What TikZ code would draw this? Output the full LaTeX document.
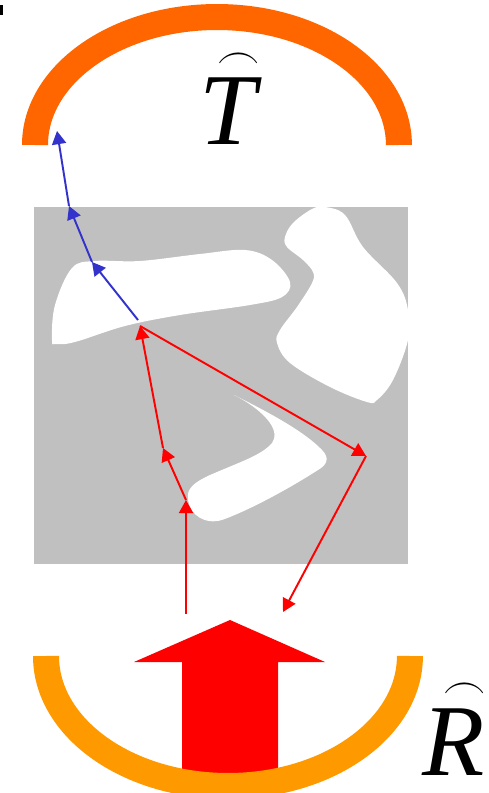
\documentclass[tikz,border=0pt]{standalone}
\usepackage{amsmath}
\usepackage{fontspec}
\setmainfont{Liberation Serif}
\usetikzlibrary{arrows.meta}
\definecolor{mirrortop}{RGB}{255,102,0}
\definecolor{mirrorbot}{RGB}{255,153,0}
\definecolor{rayred}{RGB}{255,0,0}
\definecolor{rayblue}{RGB}{51,51,204}
\definecolor{medium}{RGB}{192,192,192}
\tikzset{
  mirrorarc/.style={line width=0.52cm},
  ray/.style={-{Triangle[length=7.5pt,width=8pt]}, line width=1.1pt, color=rayred},
  blueray/.style={ray, color=rayblue},
  hole/.style={fill=white, draw=none},
  hatlabel/.style={font=\fontsize{58}{60}\selectfont, anchor=base, inner sep=0pt}
}
\begin{document}
\begin{tikzpicture}[x=0.02cm, y=-0.02cm]
  \useasboundingbox (0,0) rectangle (489,793);
  \clip (0,0) rectangle (489,793);
  \fill (0,5) rectangle (3,15);

  % Scattering medium
  \fill[medium] (34,207) rectangle (408,564);
  \fill[hole] plot[smooth cycle, tension=0.6] coordinates {(52,340) (55,305) (72,268) (95,261) (140,261) (200,254) (245,250) (272,260) (290,282) (282,297) (250,305) (180,315) (125,326) (75,342) (56,344)};
  \fill[hole] plot[smooth cycle, tension=0.6] coordinates {(325,207) (345,215) (363,247) (397,283) (408,310) (408,340) (393,380) (377,400) (367,402) (330,387) (290,363) (277,343) (280,330) (297,307) (312,283) (313,272) (303,260) (287,247) (285,237) (293,223) (312,209)};
  \fill[hole] (234,395) .. controls (270,413) and (305,432) .. (322,450)
    .. controls (330,458) and (327,465) .. (318,470)
    .. controls (290,488) and (250,510) .. (222,520)
    .. controls (205,525) and (190,515) .. (188,500)
    .. controls (186,488) and (195,482) .. (210,475)
    .. controls (240,462) and (262,455) .. (272,443)
    .. controls (280,432) and (268,418) .. (255,408)
    .. controls (247,402) and (240,398) .. (234,395) -- cycle;

  % Ray path
  \coordinate (src) at (186,614);
  \coordinate (p1) at (186,500);
  \coordinate (p2) at (163,448);
  \coordinate (p3) at (140,326);
  \coordinate (p4) at (366,456);
  \coordinate (p5) at (283,612);
  \coordinate (q0) at (138,320);
  \coordinate (q1) at (92,262);
  \coordinate (q2) at (69,206);
  \coordinate (q3) at (57,131);
  \draw[ray] (src) -- (p1);
  \draw[ray] (p1) -- (p2);
  \draw[ray] (p2) -- (p3);
  \draw[ray] (p3) -- (p4);
  \draw[ray] (p4) -- (p5);
  \draw[blueray] (q0) -- (q1);
  \draw[blueray] (q1) -- (q2);
  \draw[blueray] (q2) -- (q3);

  % Transmission
  \draw[mirrorarc, mirrortop] (35,145) arc[start angle=180, end angle=0, x radius=3.64cm, y radius=2.56cm];
  \node[hatlabel] (tlab) at (228,145) {$\overset{\scriptscriptstyle\kern0.2em\frown}{\textit{T}}$};

  % Reflection
  \fill[rayred] (230,620) -- (325,662) -- (278,662) -- (278,800) -- (182,800) -- (182,662) -- (134,662) -- cycle;
  \draw[mirrorarc, mirrorbot] (46,656) arc[start angle=180, end angle=360, x radius=3.64cm, y radius=2.6cm];
  \node[hatlabel] (rlab) at (454,775) {$\overset{\scriptscriptstyle\kern0.2em\frown}{\textit{R}}$};
\end{tikzpicture}
\end{document}
